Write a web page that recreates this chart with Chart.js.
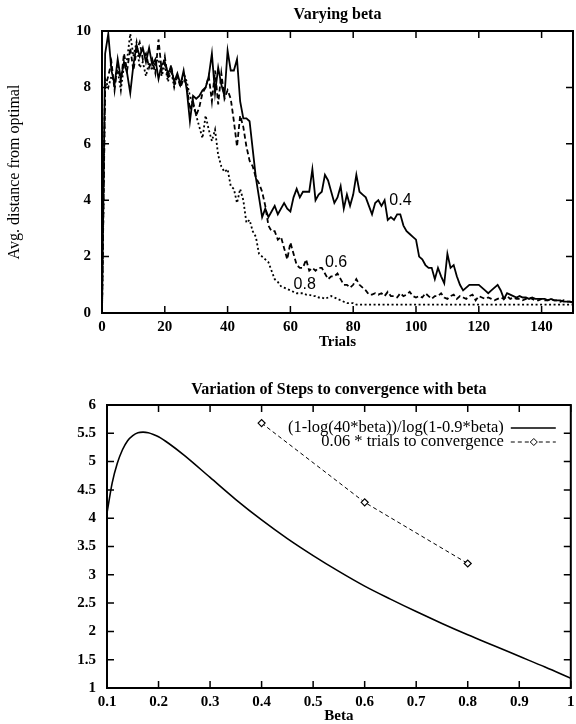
<!DOCTYPE html>
<html>
<head>
<meta charset="utf-8">
<script src="https://cdn.jsdelivr.net/npm/chart.js@4.4.0/dist/chart.umd.min.js"></script>
<style>
  html, body { margin: 0; padding: 0; background: #fff; }
  #wrap { position: relative; width: 576px; height: 724px; }
  .box { position: absolute; left: 0; width: 576px; }
  #top { top: 0; height: 352px; }
  #bot { top: 360px; height: 364px; }
</style>
</head>
<body>
<div id="wrap">
  <div class="box" id="top"><canvas id="chart1"></canvas></div>
  <div class="box" id="bot"><canvas id="chart2"></canvas></div>
</div>
<script>
// ---- top chart: avg distance from optimal per trial ----
const beta04 = [
  0, 9.2, 9.9, 8.6, 8.1, 9.0, 8.3, 8.9, 8.5, 7.8,
  8.8, 9.5, 9.1, 9.4, 8.9, 9.4, 8.8, 9.0, 8.3, 8.8,
  8.9, 8.5, 8.7, 8.2, 8.5, 8.1, 8.6, 7.9, 6.8, 7.7,
  7.6, 7.7, 7.9, 8.0, 8.4, 9.2, 7.8, 8.7, 8.1, 7.7,
  9.3, 8.6, 8.6, 9.0, 7.5, 6.9, 6.9, 6.8, 5.8, 4.8,
  4.1, 3.4, 3.7, 3.4, 3.6, 3.8, 3.5, 3.7, 3.9, 3.7,
  3.6, 4.1, 4.4, 4.1, 4.3, 4.3, 4.3, 5.1, 4.0, 4.2,
  4.3, 4.9, 4.7, 4.3, 3.9, 4.1, 4.5, 3.7, 4.2, 3.8,
  4.2, 4.9, 4.3, 4.2, 4.1, 3.8, 3.5, 3.9, 4.0, 3.8,
  4.0, 3.3, 3.4, 3.3, 3.5, 3.5, 3.1, 2.9, 2.8, 2.7,
  2.6, 2.0, 1.9, 1.7, 1.6, 1.6, 1.2, 1.6, 1.3, 1.05,
  2.1, 1.6, 1.7, 1.3, 1.0, 0.8, 0.9, 1.0, 1.0, 1.0,
  1.0, 0.9, 0.8, 0.7, 0.8, 0.9, 1.0, 0.8, 0.5, 0.7,
  0.65, 0.6, 0.55, 0.6, 0.55, 0.55, 0.5, 0.55, 0.5, 0.5,
  0.5, 0.5, 0.45, 0.5, 0.45, 0.45, 0.45, 0.4, 0.4, 0.4,
  0.38
];
const beta06 = [
  0, 8.0, 8.4, 8.9, 7.9, 8.8, 8.2, 9.2, 8.6, 9.4,
  8.6, 9.3, 9.6, 9.0, 9.2, 8.7, 9.0, 8.5, 9.7, 8.6,
  9.1, 8.3, 8.8, 8.1, 8.4, 8.0, 8.3, 8.1, 7.2, 7.5,
  7.0, 7.3, 7.8, 8.0, 8.4, 7.5, 8.6, 7.4, 8.5, 7.6,
  7.9, 7.6, 6.8, 5.9, 7.0, 6.6, 5.9, 5.4, 5.2, 4.8,
  4.6, 4.3, 3.8, 3.1, 2.9, 2.9, 2.6, 2.7, 2.3, 1.9,
  2.5, 2.1, 1.7, 1.6, 1.6, 1.9, 1.5, 1.6, 1.5, 1.6,
  1.6, 1.4, 1.2, 1.3, 1.3, 1.4, 1.2, 1.0, 1.0, 0.9,
  1.0, 1.2, 1.0, 0.9, 0.8, 0.65, 0.65, 0.7, 0.65, 0.7,
  0.6, 0.75, 0.6, 0.6, 0.55, 0.7, 0.6, 0.65, 0.75, 0.6,
  0.55, 0.6, 0.55, 0.7, 0.6, 0.5, 0.6, 0.6, 0.7, 0.55,
  0.5, 0.6, 0.65, 0.5, 0.6, 0.55, 0.5, 0.6, 0.65, 0.45,
  0.6, 0.55, 0.5, 0.55, 0.5, 0.45, 0.5, 0.55, 0.5, 0.6,
  0.5, 0.55, 0.5, 0.5, 0.45, 0.5, 0.55, 0.5, 0.45, 0.45,
  0.5, 0.45, 0.45, 0.5, 0.45, 0.45, 0.4, 0.45, 0.4, 0.4,
  0.36
];
const beta08 = [
  0, 8.3, 8.0, 8.4, 8.2, 8.6, 7.9, 8.8, 9.0, 9.9,
  9.1, 9.6, 8.7, 8.9, 8.4, 8.9, 8.6, 8.9, 9.0, 8.4,
  8.8, 8.2, 8.6, 8.0, 8.4, 8.1, 8.5, 8.2, 7.7, 7.4,
  7.0, 6.6, 6.2, 7.0, 6.5, 6.1, 6.5, 5.6, 5.2, 5.0,
  5.1, 4.5, 4.4, 3.9, 4.4, 4.0, 3.2, 3.3, 2.9, 2.7,
  2.1, 2.0, 1.9, 1.8, 1.5, 1.2, 1.1, 0.95, 0.9, 0.85,
  0.8, 0.75, 0.7, 0.7, 0.7, 0.65, 0.65, 0.6, 0.6, 0.55,
  0.55, 0.5, 0.55, 0.6, 0.55, 0.5, 0.45, 0.4, 0.35, 0.35,
  0.35, 0.3, 0.3, 0.3, 0.3, 0.3, 0.3, 0.3, 0.3, 0.3,
  0.3, 0.3, 0.3, 0.3, 0.3, 0.3, 0.3, 0.3, 0.3, 0.3,
  0.3, 0.3, 0.3, 0.3, 0.3, 0.3, 0.3, 0.3, 0.3, 0.3,
  0.3, 0.3, 0.3, 0.3, 0.3, 0.3, 0.3, 0.3, 0.3, 0.3,
  0.3, 0.3, 0.3, 0.3, 0.3, 0.3, 0.3, 0.3, 0.3, 0.3,
  0.3, 0.3, 0.3, 0.3, 0.3, 0.3, 0.3, 0.3, 0.3, 0.3,
  0.3, 0.3, 0.3, 0.3, 0.3, 0.3, 0.3, 0.3, 0.3, 0.3,
  0.3
];
const trials = beta04.map((v, i) => i);
const trialTicks = [0, 20, 40, 60, 80, 100, 120, 140];
const distTicks = [0, 2, 4, 6, 8, 10];

// curve labels written next to the lines
const noteText = ['0.4', '0.6', '0.8'];
const noteTrial = [91.5, 71, 61];
const noteValue = [4.0, 1.8, 1.0];

// ---- bottom chart: steps to convergence vs beta ----
const betaX = [0.10, 0.11, 0.12, 0.13, 0.14, 0.15, 0.16, 0.17, 0.18, 0.19, 0.20, 0.22, 0.25,
               0.30, 0.35, 0.40, 0.45, 0.50, 0.55, 0.60, 0.65, 0.70, 0.75, 0.80, 0.85, 0.90, 0.95, 1.00];
const curveY = [4.09, 4.62, 4.97, 5.21, 5.37, 5.46, 5.51, 5.52, 5.51, 5.48, 5.44, 5.32, 5.11,
                4.72, 4.33, 3.97, 3.64, 3.34, 3.06, 2.80, 2.57, 2.35, 2.14, 1.94, 1.75, 1.56, 1.37, 1.17];
const trialBeta = [0.4, 0.6, 0.8];
const trialSteps = [5.68, 4.28, 3.2];
const betaTicks = [0.1, 0.2, 0.3, 0.4, 0.5, 0.6, 0.7, 0.8, 0.9, 1];
const stepTicks = [1, 1.5, 2, 2.5, 3, 3.5, 4, 4.5, 5, 5.5, 6];
const legendText = ['(1-log(40*beta))/log(1-0.9*beta)', '0.06 * trials to convergence'];

const serif = "'Liberation Serif', 'Times New Roman', serif";
const tickFont = { family: serif, size: 15, weight: 'bold' };

// gnuplot style box with inward ticks on all four sides
const frame = {
  id: 'frame',
  afterDatasetsDraw(chart) {
    const { ctx, chartArea: a, scales: { x, y } } = chart;
    ctx.save();
    ctx.strokeStyle = '#000';
    ctx.lineWidth = 2;
    ctx.strokeRect(a.left, a.top, a.right - a.left, a.bottom - a.top);
    ctx.lineWidth = 1.5;
    ctx.beginPath();
    x.ticks.forEach(t => {
      const px = x.getPixelForValue(t.value);
      ctx.moveTo(px, a.bottom); ctx.lineTo(px, a.bottom - 7);
      ctx.moveTo(px, a.top); ctx.lineTo(px, a.top + 7);
    });
    y.ticks.forEach(t => {
      const py = y.getPixelForValue(t.value);
      ctx.moveTo(a.left, py); ctx.lineTo(a.left + 7, py);
      ctx.moveTo(a.right, py); ctx.lineTo(a.right - 7, py);
    });
    ctx.stroke();
    ctx.restore();
  }
};

const topTexts = {
  id: 'topTexts',
  afterDraw(chart) {
    const { ctx, chartArea: a, scales: { x, y } } = chart;
    ctx.save();
    ctx.fillStyle = '#000';
    ctx.textAlign = 'center';
    ctx.textBaseline = 'middle';
    ctx.font = "bold 16px " + serif;
    ctx.fillText('Varying beta', (a.left + a.right) / 2, 15);
    ctx.font = "16px 'Liberation Sans', Arial, sans-serif";
    ctx.textAlign = 'left';
    noteText.forEach((s, i) => {
      ctx.fillText(s, x.getPixelForValue(noteTrial[i]), y.getPixelForValue(noteValue[i]));
    });
    ctx.restore();
  }
};

const botTexts = {
  id: 'botTexts',
  afterDraw(chart) {
    const { ctx, chartArea: a } = chart;
    ctx.save();
    ctx.fillStyle = '#000';
    ctx.strokeStyle = '#000';
    ctx.textAlign = 'center';
    ctx.textBaseline = 'middle';
    ctx.font = "bold 16px " + serif;
    ctx.fillText('Variation of Steps to convergence with beta', (a.left + a.right) / 2, 30);
    // legend
    ctx.font = "16.5px " + serif;
    ctx.textAlign = 'right';
    const tx = a.right - 67;
    const rows = [a.top + 23, a.top + 37];
    ctx.fillText(legendText[0], tx, rows[0]);
    ctx.fillText(legendText[1], tx, rows[1]);
    ctx.lineWidth = 1.6;
    ctx.beginPath();
    ctx.moveTo(a.right - 60, rows[0]); ctx.lineTo(a.right - 15, rows[0]);
    ctx.stroke();
    ctx.lineWidth = 1;
    ctx.setLineDash([4, 3]);
    ctx.beginPath();
    ctx.moveTo(a.right - 60, rows[1]); ctx.lineTo(a.right - 15, rows[1]);
    ctx.stroke();
    ctx.setLineDash([]);
    const dx = a.right - 37, dy = rows[1];
    ctx.fillStyle = '#fff';
    ctx.beginPath();
    ctx.moveTo(dx, dy - 3.5); ctx.lineTo(dx + 3.5, dy); ctx.lineTo(dx, dy + 3.5); ctx.lineTo(dx - 3.5, dy);
    ctx.closePath();
    ctx.fill();
    ctx.stroke();
    ctx.restore();
  }
};

new Chart(document.getElementById('chart1'), {
  type: 'line',
  data: {
    datasets: [
      { label: '0.4', data: trials.map((t, i) => ({ x: t, y: beta04[i] })),
        borderColor: '#000', borderWidth: 1.8, pointRadius: 0, tension: 0 },
      { label: '0.6', data: trials.map((t, i) => ({ x: t, y: beta06[i] })),
        borderColor: '#000', borderWidth: 1.8, borderDash: [5, 3], pointRadius: 0, tension: 0 },
      { label: '0.8', data: trials.map((t, i) => ({ x: t, y: beta08[i] })),
        borderColor: '#000', borderWidth: 1.8, borderDash: [2, 2.5], pointRadius: 0, tension: 0 }
    ]
  },
  options: {
    responsive: true,
    maintainAspectRatio: false,
    animation: false,
    layout: { padding: { top: 31, right: 3, left: 0, bottom: 0 } },
    plugins: { legend: { display: false }, tooltip: { enabled: false } },
    scales: {
      x: {
        type: 'linear', min: 0, max: 150,
        afterBuildTicks: s => { s.ticks = trialTicks.map(v => ({ value: v })); },
        afterFit: s => { s.height = 39; s.paddingRight = 3; },
        grid: { display: false, drawTicks: false }, border: { display: false },
        ticks: { color: '#000', font: tickFont, padding: 5, maxRotation: 0, callback: v => String(v) },
        title: { display: true, text: 'Trials', color: '#000', font: { family: serif, size: 15, weight: 'bold', lineHeight: 1 }, padding: { top: 0, bottom: 2 } }
      },
      y: {
        min: 0, max: 10,
        afterBuildTicks: s => { s.ticks = distTicks.map(v => ({ value: v })); },
        afterFit: s => { s.width = 102; },
        grid: { display: false, drawTicks: false }, border: { display: false },
        ticks: { color: '#000', font: tickFont, padding: 11, callback: v => String(v) },
        title: { display: true, text: 'Avg. distance from optimal', color: '#000', font: { family: serif, size: 16, lineHeight: 1 }, padding: { top: 7, bottom: 0 } }
      }
    }
  },
  plugins: [frame, topTexts]
});

new Chart(document.getElementById('chart2'), {
  type: 'line',
  data: {
    datasets: [
      { label: legendText[0], data: betaX.map((b, i) => ({ x: b, y: curveY[i] })),
        borderColor: '#000', borderWidth: 1.6, pointRadius: 0, tension: 0.4, cubicInterpolationMode: 'monotone' },
      { label: legendText[1], data: trialBeta.map((b, i) => ({ x: b, y: trialSteps[i] })),
        borderColor: '#000', borderWidth: 1, borderDash: [4, 3], tension: 0,
        pointStyle: 'rectRot', pointRadius: 3.5, pointBackgroundColor: '#fff', pointBorderColor: '#000', pointBorderWidth: 1.2 }
    ]
  },
  options: {
    responsive: true,
    maintainAspectRatio: false,
    animation: false,
    layout: { padding: { top: 45, right: 4, left: 0, bottom: 0 } },
    plugins: { legend: { display: false }, tooltip: { enabled: false } },
    scales: {
      x: {
        type: 'linear', min: 0.1, max: 1,
        afterBuildTicks: s => { s.ticks = betaTicks.map(v => ({ value: v })); },
        afterFit: s => { s.height = 36; s.paddingRight = 4; },
        grid: { display: false, drawTicks: false }, border: { display: false },
        ticks: { color: '#000', font: tickFont, padding: 5, maxRotation: 0, callback: v => String(v) },
        title: { display: true, text: 'Beta', color: '#000', font: { family: serif, size: 15, weight: 'bold', lineHeight: 1 }, padding: { top: 0, bottom: 0 } }
      },
      y: {
        min: 1, max: 6,
        afterBuildTicks: s => { s.ticks = stepTicks.map(v => ({ value: v })); },
        afterFit: s => { s.width = 107; },
        grid: { display: false, drawTicks: false }, border: { display: false },
        ticks: { color: '#000', font: tickFont, padding: 11, callback: v => String(v) }
      }
    }
  },
  plugins: [frame, botTexts]
});
</script>
</body>
</html>
